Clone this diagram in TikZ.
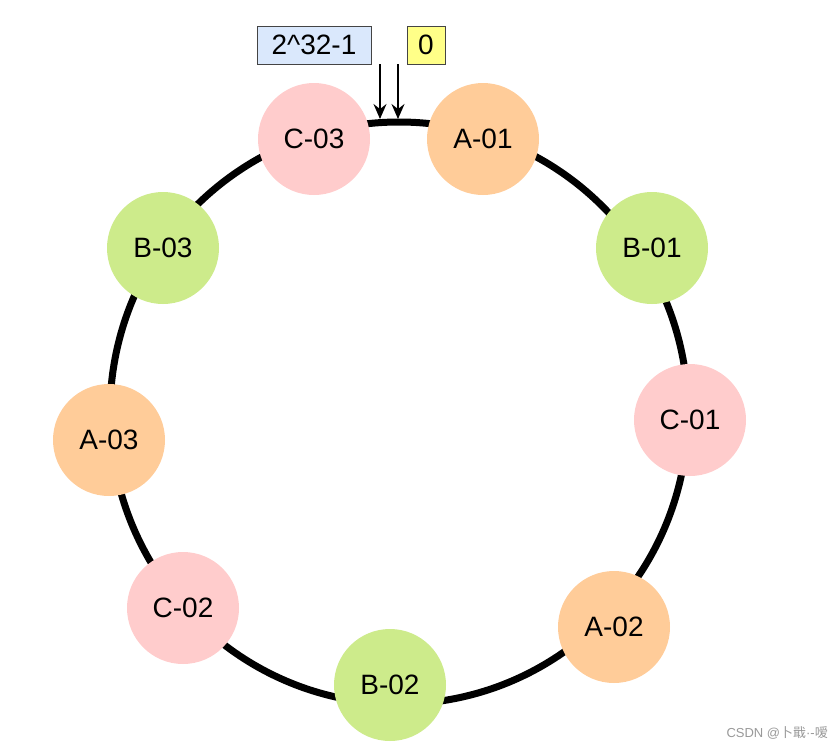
\documentclass[tikz,border=0pt]{standalone}
\usepackage{fontspec}
\setmainfont{Liberation Sans}
\newfontfamily\cjk{Noto Sans CJK SC}
\usetikzlibrary{arrows.meta}
\definecolor{cpink}{HTML}{FFCCCC}
\definecolor{corange}{HTML}{FFCC99}
\definecolor{cgreen}{HTML}{CDEB8B}
\definecolor{cblue}{HTML}{DAE8FC}
\definecolor{cyellow}{HTML}{FFFF88}
\definecolor{cborder}{HTML}{444444}
\tikzset{
  server/.style={circle, minimum size=112pt, inner sep=0pt, font=\fontsize{28}{33}\selectfont},
  srvA/.style={server, fill=corange},
  srvB/.style={server, fill=cgreen},
  srvC/.style={server, fill=cpink},
  tag/.style={draw=cborder, line width=1pt, minimum height=38pt, inner sep=0pt, font=\fontsize{28}{33}\selectfont},
  pointer/.style={line width=1.5pt, -{Stealth[length=15pt,width=13pt,inset=5pt]}},
  ring/.style={line width=7pt}
}
\begin{document}
\begin{tikzpicture}[x=1pt,y=-1pt]
\useasboundingbox (0,0) rectangle (836,748);
\fill[white] (0,0) rectangle (836,748);
% ring
\node[draw=none, inner sep=0pt] (center) at (399,413) {};
\draw[ring] (center) ellipse [x radius=289pt, y radius=291pt];
% servers
\node[srvC] (C03) at (314,139) {C-03};
\node[srvA] (A01) at (483,139) {A-01};
\node[srvB] (B01) at (652,248) {B-01};
\node[srvC] (C01) at (690,420) {C-01};
\node[srvA] (A02) at (614,627) {A-02};
\node[srvB] (B02) at (390,685) {B-02};
\node[srvC] (C02) at (183,608) {C-02};
\node[srvA] (A03) at (109,440) {A-03};
\node[srvB] (B03) at (163,248) {B-03};
% labels
\node[tag, fill=cblue, minimum width=114pt] (max) at (314,45) {2\textasciicircum 32-1};
\node[tag, fill=cyellow, minimum width=38pt] (zero) at (426,45) {0};
% pointers
\coordinate (p1s) at (380,64);
\coordinate (p1e) at (380,119);
\coordinate (p2s) at (398,64);
\coordinate (p2e) at (398,119);
\draw[pointer] (p1s) -- (p1e);
\draw[pointer] (p2s) -- (p2e);
% watermark
\node[anchor=east, inner sep=0pt, text=black!40, font=\fontsize{13}{15}\selectfont] (wm) at (828,733) {CSDN @{\cjk 卜戢}·-{\cjk 嗳}};
\end{tikzpicture}
\end{document}
